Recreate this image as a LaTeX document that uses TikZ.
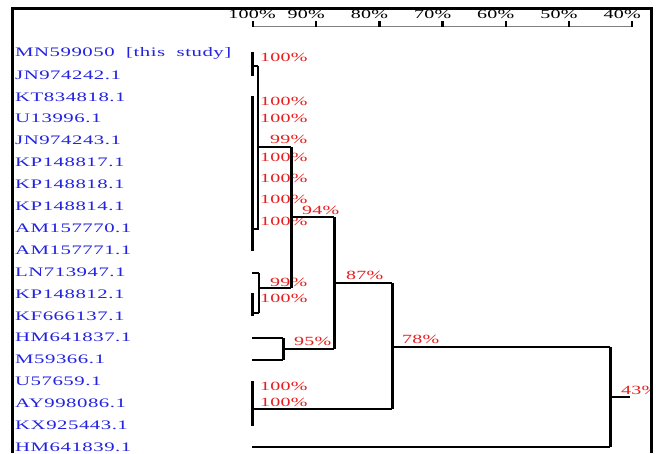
\documentclass[tikz,border=0pt]{standalone}
\usepackage{fontspec}
\newfontfamily\lblfont[FakeStretch=1.6,LetterSpace=4,WordSpace=2]{Liberation Serif}
\newfontfamily\numfont[FakeStretch=1.6,LetterSpace=2]{Liberation Serif}
\definecolor{leafblue}{RGB}{35,35,225}
\definecolor{suppred}{RGB}{232,30,30}
\begin{document}
\begin{tikzpicture}[x=1pt,y=-1pt,
  leaf/.style={anchor=west,inner sep=0pt,font=\lblfont\fontsize{13}{13}\selectfont,text=leafblue},
  supp/.style={anchor=west,inner sep=0pt,font=\numfont\fontsize{12.5}{12.5}\selectfont,text=suppred},
  axlbl/.style={inner sep=0pt,font=\numfont\fontsize{12.5}{12.5}\selectfont,text=black},
  vthick/.style={line width=3pt},
  hthin/.style={line width=1.5pt},
  frameline/.style={line width=3pt}]
\useasboundingbox (0,0) rectangle (656,453);
\fill[white] (0,0) rectangle (656,453);
% axis
\coordinate (ax0) at (253,26);
\coordinate (ax1) at (632,26);
\draw[line width=0.8pt,gray] (ax0) -- (ax1);
\foreach \k in {0,...,6}{
  \coordinate (tk\k) at ({253+63.2*\k},21);
  \draw[line width=2.5pt] (tk\k) -- ++(0,6);
}
\node[axlbl] (a0) at (252,14) {100\%};
\foreach \k/\t in {1/90\%,2/80\%,3/70\%,4/60\%,5/50\%,6/40\%}{
  \node[axlbl] (a\k) at ({253+63.2*\k-10},14) {\t};
}
% leaves
\foreach \i/\t in {0/MN599050 [this study],1/JN974242.1,2/KT834818.1,3/U13996.1,4/JN974243.1,5/KP148817.1,6/KP148818.1,7/KP148814.1,8/AM157770.1,9/AM157771.1,10/LN713947.1,11/KP148812.1,12/KF666137.1,13/HM641837.1,14/M59366.1,15/U57659.1,16/AY998086.1,17/KX925443.1,18/HM641839.1}{
  \node[leaf] (l\i) at (15,{53+21.9*\i}) {\t};
}
% support labels
\node[supp] (s1) at (260,57) {100\%};
\node[supp] (s2) at (260,101) {100\%};
\node[supp] (s3) at (260,118) {100\%};
\node[supp] (s4) at (270,139) {99\%};
\node[supp] (s5) at (260,157) {100\%};
\node[supp] (s6) at (260,178) {100\%};
\node[supp] (s7) at (260,199) {100\%};
\node[supp] (s8) at (260,221) {100\%};
\node[supp] (s9) at (302,210) {94\%};
\node[supp] (s10) at (270,282) {99\%};
\node[supp] (s11) at (260,298) {100\%};
\node[supp] (s12) at (294,341) {95\%};
\node[supp] (s13) at (346,275) {87\%};
\node[supp] (s14) at (402,339) {78\%};
\node[supp] (s15) at (260,386) {100\%};
\node[supp] (s16) at (260,402) {100\%};
\begin{scope}
\clip (0,0) rectangle (650,453);
\node[supp] (s17) at (621,390) {43\%};
\end{scope}
% tree coordinates
\coordinate (c1t) at (252,52); \coordinate (c1b) at (252,76);
\coordinate (c1m) at (252,66); \coordinate (c1r) at (258,66);
\coordinate (c1d) at (258,229); \coordinate (c1h) at (253,229);
\coordinate (c2t) at (252,96); \coordinate (c2b) at (252,251);
\coordinate (n99a) at (258,147); \coordinate (n99) at (291,147);
\coordinate (n99b) at (291,288);
\coordinate (lnT) at (252,273); \coordinate (lnTr) at (259,273);
\coordinate (lnB) at (259,313); \coordinate (lnBl) at (252,313);
\coordinate (lnM) at (259,288);
\coordinate (kp1) at (252,293); \coordinate (kp2) at (252,316);
\coordinate (n94) at (291,217); \coordinate (n94r) at (334,217);
\coordinate (n94b) at (334,349);
\coordinate (hm1) at (252,338); \coordinate (hm1r) at (283,338);
\coordinate (hm2) at (252,360); \coordinate (hm2r) at (283,360);
\coordinate (hmM) at (283,349);
\coordinate (n87) at (334,283); \coordinate (n87r) at (392,283);
\coordinate (n87b) at (392,409); \coordinate (u1) at (252,409);
\coordinate (u5t) at (252,381); \coordinate (u5b) at (252,426);
\coordinate (n78) at (392,347); \coordinate (n78r) at (610,347);
\coordinate (n78b) at (610,447); \coordinate (hm39) at (252,447);
\coordinate (root) at (610,397); \coordinate (rootr) at (630,397);
% tree lines
\draw[vthick] (c1t) -- (c1b);
\draw[hthin] (c1m) -- (c1r);
\draw[line width=2pt] (c1r) -- (c1d) -- (c1h);
\draw[vthick] (c2t) -- (c2b);
\draw[hthin] (n99a) -- (n99);
\draw[vthick] (n99) -- (n99b);
\draw[hthin] (lnT) -- (lnTr);
\draw[line width=2.5pt] (lnTr) -- (lnB);
\draw[hthin] (lnB) -- (lnBl);
\draw[vthick] (kp1) -- (kp2);
\draw[hthin] (lnM) -- (n99b);
\draw[hthin] (n94) -- (n94r);
\draw[vthick] (n94r) -- (n94b);
\draw[hthin] (hm1) -- (hm1r);
\draw[hthin] (hm2) -- (hm2r);
\draw[vthick] (hm1r) -- (hm2r);
\draw[hthin] (hmM) -- (n94b);
\draw[hthin] (n87) -- (n87r);
\draw[vthick] (n87r) -- (n87b);
\draw[hthin] (u1) -- (n87b);
\draw[vthick] (u5t) -- (u5b);
\draw[hthin] (n78) -- (n78r);
\draw[vthick] (n78r) -- (n78b);
\draw[hthin] (hm39) -- (n78b);
\draw[hthin] (root) -- (rootr);
% frame
\coordinate (fbl) at (12,453); \coordinate (ftl) at (12,8);
\coordinate (ftr) at (651,8); \coordinate (fbr) at (651,453);
\draw[frameline,line join=miter] (fbl) -- (ftl) -- (ftr) -- (fbr);
\end{tikzpicture}
\end{document}
